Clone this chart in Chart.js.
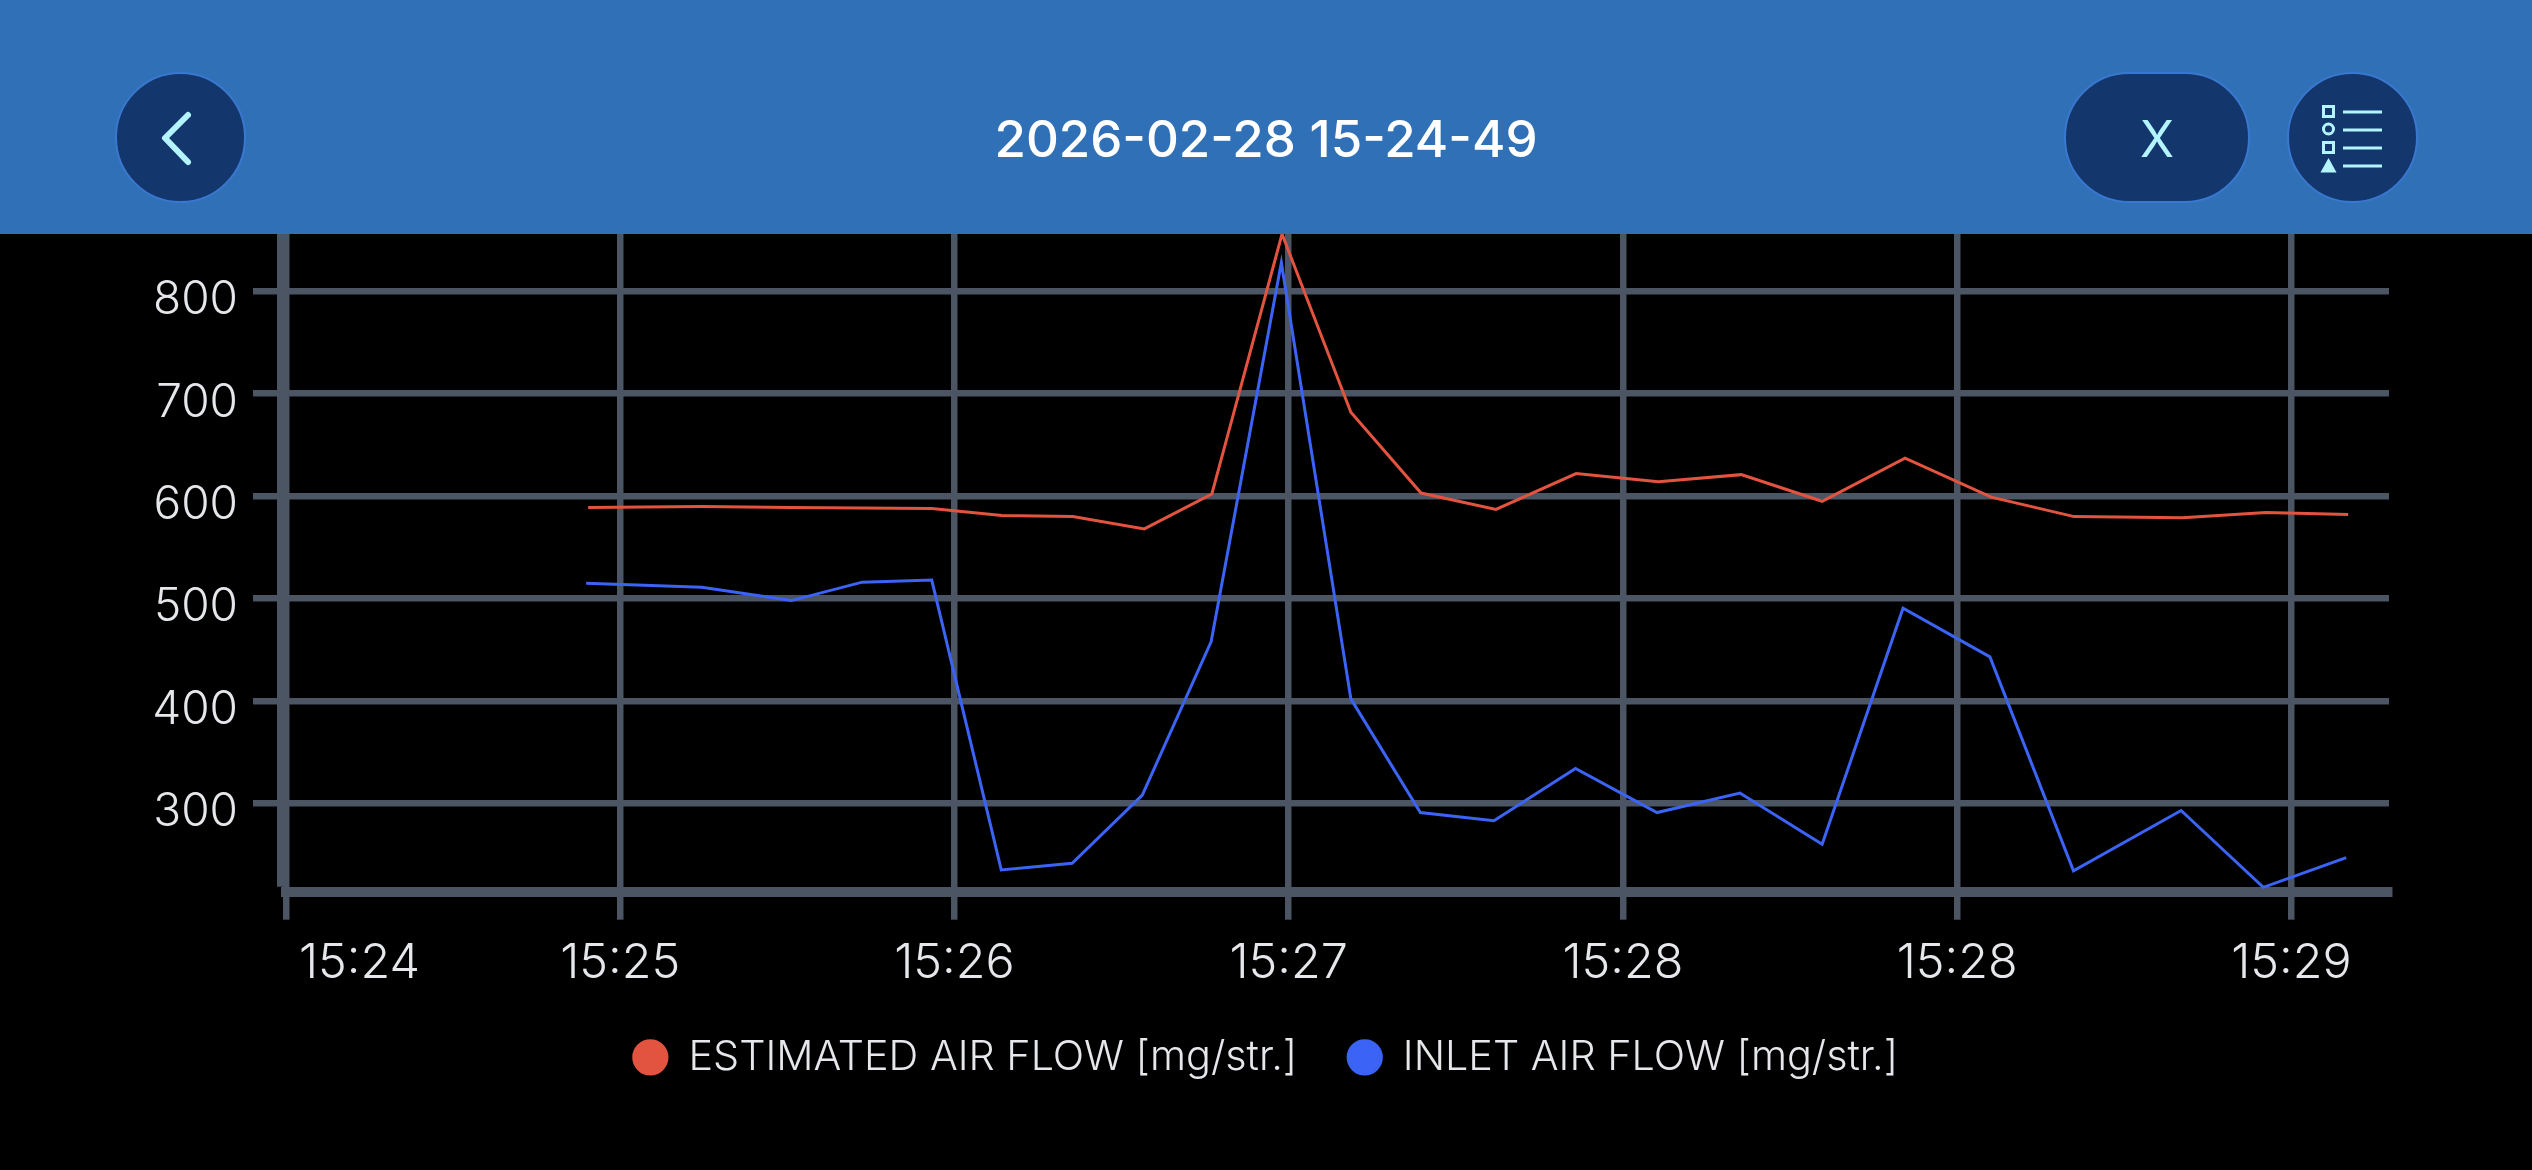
<!DOCTYPE html>
<html>
<head>
<meta charset="utf-8">
<title>2026-02-28 15-24-49</title>
<script src="https://cdn.jsdelivr.net/npm/chart.js@4/dist/chart.umd.min.js"></script>
<style>
  html, body { margin: 0; background: #000; width: 2532px; height: 1170px; overflow: hidden; }
  #chart { position: absolute; left: 0; top: 0; }
  .header { position: absolute; left: 0; top: 0; width: 2532px; height: 234px; background: #3070b7; }
  .title { position: absolute; left: 0; width: 2532px; top: 0; text-align: center;
           color: #fff; font: 550 51px/277px Inter, sans-serif; }
  .btn { position: absolute; top: 72px; height: 131px; box-sizing: border-box; background: #13366d;
         border: 2px solid #3a78cf; color: #b4f4ff; }
  .back { left: 115px; width: 131px; border-radius: 50%; }
  .series { left: 2064px; width: 186px; border-radius: 65px; text-align: center;
            font: 400 50px/131px Inter, sans-serif; }
  .menu { left: 2287px; width: 131px; border-radius: 50%; }
  .btn svg { position: absolute; left: -1px; top: -1px; }
</style>
</head>
<body>
<canvas id="chart" width="2532" height="1170"></canvas>
<div class="header">
  <div class="title">2026-02-28 15-24-49</div>
  <div class="btn back">
    <svg width="129" height="129"><path d="M72 42 L49 65 L72 89" fill="none" stroke="#b4f4ff" stroke-width="6" stroke-linecap="round" stroke-linejoin="round"/></svg>
  </div>
  <div class="btn series">X</div>
  <div class="btn menu">
    <svg width="129" height="129" fill="none" stroke="#b4f4ff" stroke-width="3">
      <rect x="35.5" y="33.5" width="10" height="10"/>
      <circle cx="40.5" cy="56" r="5"/>
      <rect x="35.5" y="69.5" width="10" height="10"/>
      <path d="M40.5 88 L46 98 L35 98 Z" fill="#b4f4ff"/>
      <path d="M55 39 H94 M55 57 H94 M55 75 H94 M55 93 H94"/>
    </svg>
  </div>
</div>
<script>
// seconds from the left edge of the time axis
const estimatedTimes = [45.2, 62.2, 75.6, 86.2, 96.6, 107.1, 117.7, 128.4, 138.5, 149.0, 159.3, 169.8, 181.0, 193.0, 205.3, 217.7, 229.8, 242.2, 255.1, 267.5, 283.7, 296.2, 308.5];
const estimatedFlow  = [589, 590, 589, 588.5, 588, 581, 580, 568, 602, 856, 682, 603, 587, 622, 614, 621, 595, 637, 599, 580, 579, 584, 582];
const inletTimes = [44.9, 62.2, 75.6, 86.2, 96.6, 107.0, 117.6, 128.1, 138.4, 148.9, 159.3, 169.7, 180.7, 192.9, 205.1, 217.5, 229.8, 241.9, 254.9, 267.4, 283.5, 295.8, 308.2];
const inletFlow  = [515, 511, 498, 516, 518, 235, 241.5, 308, 458, 828, 402, 291, 283, 334, 291, 310, 260, 490.5, 443, 234, 293, 218, 247];

const xTicks = [0, 11, 50, 100, 150, 200, 250, 300];
const xTickLabels = ['', '15:24', '15:25', '15:26', '15:27', '15:28', '15:28', '15:29'];
const yTicks = [300, 400, 500, 600, 700, 800];

const GRID = '#4b5563';
const TEXT = '#e5e7eb';
const RED = '#e2543f';
const BLUE = '#3b63f5';
const FONT = 'Inter, sans-serif';

const points = (xs, ys) => xs.map((x, i) => ({ x, y: ys[i] }));

// the y axis strip sits just left of the first vertical grid line
const yAxisStrip = {
  id: 'yAxisStrip',
  beforeDatasetsDraw(chart) {
    const { ctx, chartArea } = chart;
    ctx.save();
    ctx.fillStyle = GRID;
    ctx.fillRect(chartArea.left - 9, chartArea.top, 9, chartArea.bottom - 5 - chartArea.top);
    ctx.restore();
  }
};

new Chart(document.getElementById('chart'), {
  type: 'line',
  data: {
    datasets: [
      { label: 'ESTIMATED AIR FLOW [mg/str.]', data: points(estimatedTimes, estimatedFlow), borderColor: RED, backgroundColor: RED, borderWidth: 3, pointRadius: 0, tension: 0 },
      { label: 'INLET AIR FLOW [mg/str.]', data: points(inletTimes, inletFlow), borderColor: BLUE, backgroundColor: BLUE, borderWidth: 3, pointRadius: 0, tension: 0 }
    ]
  },
  options: {
    responsive: false,
    devicePixelRatio: 1,
    animation: false,
    layout: { padding: { left: 142, right: 143, top: 200, bottom: 82 } },
    plugins: {
      tooltip: { enabled: false },
      legend: {
        position: 'bottom',
        labels: {
          color: TEXT,
          font: { family: FONT, size: 41.3, weight: '300' },
          usePointStyle: true,
          boxWidth: 35,
          boxHeight: 23.5,
          padding: 50
        }
      }
    },
    scales: {
      x: {
        type: 'linear',
        min: 0,
        max: 314.6,
        afterBuildTicks: s => { s.ticks = xTicks.map(value => ({ value })); },
        afterFit: s => { s.height = 95; s.paddingLeft = 0; s.paddingRight = 0; },
        grid: {
          color: c => (c.tick && c.tick.value === xTicks[1] ? 'transparent' : GRID),
          lineWidth: 6.5,
          tickLength: 28
        },
        border: { color: GRID, width: 10 },
        ticks: {
          color: TEXT,
          font: { family: FONT, size: 48.5, weight: '300' },
          padding: 15,
          maxRotation: 0,
          autoSkip: false,
          callback: (v, i) => xTickLabels[i]
        }
      },
      y: {
        min: 213.7,
        max: 889.2,
        afterBuildTicks: s => { s.ticks = yTicks.map(value => ({ value })); },
        afterFit: s => { s.width = 144; s.paddingTop = 0; s.paddingBottom = 0; },
        grid: { color: GRID, lineWidth: 6.5, tickLength: 33 },
        border: { display: false },
        ticks: {
          color: TEXT,
          font: { family: FONT, size: 46, weight: '300' },
          padding: 15,
          labelOffset: 9,
          callback: v => String(v)
        }
      }
    }
  },
  plugins: [yAxisStrip]
});
</script>
</body>
</html>
